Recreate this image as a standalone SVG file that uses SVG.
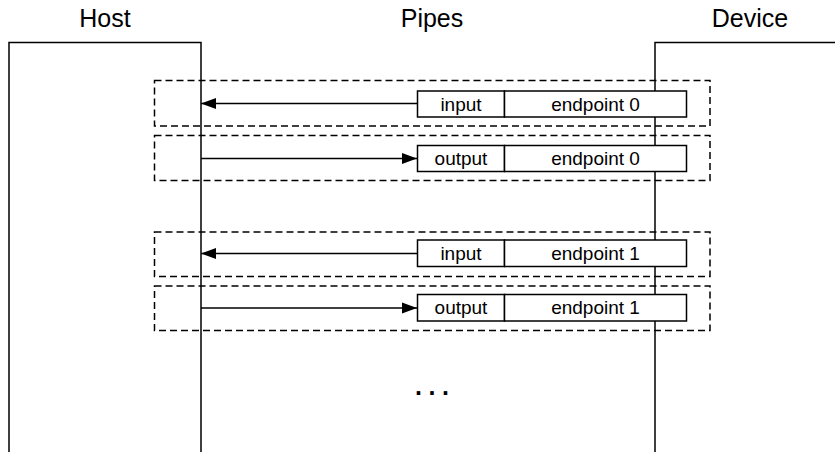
<svg xmlns="http://www.w3.org/2000/svg" width="835" height="452" viewBox="0 0 835 452">
  <style>
    .title { font-family: "Liberation Sans", Arial, sans-serif; font-size: 25px; fill: #000; text-anchor: middle; }
    .label { font-family: "Liberation Sans", Arial, sans-serif; font-size: 19px; fill: #000; text-anchor: middle; }
    .pipe { fill: none; stroke: #000; stroke-width: 1.5; stroke-dasharray: 7 4; }
    .side { fill: none; stroke: #000; stroke-width: 1.5; }
    .cell { fill: #fff; stroke: #000; stroke-width: 1.5; }
    .wire { fill: none; stroke: #000; stroke-width: 1.5; marker-end: url(#head); }
  </style>
  <defs>
    <marker id="head" markerUnits="userSpaceOnUse" markerWidth="16" markerHeight="12" viewBox="0 0 16 12" refX="15" refY="6" orient="auto">
      <path d="M0,0.5 L15,6 L0,11.5 Z" fill="#000"/>
    </marker>
  </defs>

  <rect width="835" height="452" fill="#fff"/>

  <!-- column titles -->
  <text class="title" x="105" y="27">Host</text>
  <text class="title" x="432" y="27">Pipes</text>
  <text class="title" x="750" y="27">Device</text>

  <!-- pipe frames -->
  <g id="pipes">
    <rect class="pipe" x="154.5" y="80.5" width="555.5" height="45.5"/>
    <rect class="pipe" x="154.5" y="135.5" width="555.5" height="45"/>
    <rect class="pipe" x="154.5" y="232" width="555.5" height="44.5"/>
    <rect class="pipe" x="154.5" y="286" width="555.5" height="44.5"/>
  </g>

  <!-- host and device -->
  <g id="host">
    <path class="side" d="M9,452 V42.5 H201 V452"/>
  </g>
  <g id="device">
    <path class="side" d="M655,452 V42.5 H835"/>
  </g>

  <!-- connectors -->
  <g id="connectors">
    <line class="wire" x1="417" y1="103.5" x2="201" y2="103.5"/>
    <line class="wire" x1="201" y1="158.5" x2="417" y2="158.5"/>
    <line class="wire" x1="417" y1="253.5" x2="201" y2="253.5"/>
    <line class="wire" x1="201" y1="308" x2="417" y2="308"/>
  </g>

  <!-- endpoints -->
  <g id="ep0-in">
    <rect class="cell" x="417.5" y="91" width="87" height="26"/>
    <rect class="cell" x="504.5" y="91" width="182" height="26"/>
    <text class="label" x="461" y="110.5">input</text>
    <text class="label" x="595.5" y="110.5">endpoint 0</text>
  </g>
  <g id="ep0-out">
    <rect class="cell" x="417.5" y="145.5" width="87" height="26"/>
    <rect class="cell" x="504.5" y="145.5" width="182" height="26"/>
    <text class="label" x="461" y="165">output</text>
    <text class="label" x="595.5" y="165">endpoint 0</text>
  </g>
  <g id="ep1-in">
    <rect class="cell" x="417.5" y="240" width="87" height="26.5"/>
    <rect class="cell" x="504.5" y="240" width="182" height="26.5"/>
    <text class="label" x="461" y="259.5">input</text>
    <text class="label" x="595.5" y="259.5">endpoint 1</text>
  </g>
  <g id="ep1-out">
    <rect class="cell" x="417.5" y="294.5" width="87" height="26.5"/>
    <rect class="cell" x="504.5" y="294.5" width="182" height="26.5"/>
    <text class="label" x="461" y="314">output</text>
    <text class="label" x="595.5" y="314">endpoint 1</text>
  </g>

  <!-- more pipes follow -->
  <text x="415" y="395" font-family="'Liberation Sans', Arial, sans-serif" font-size="25" font-weight="bold" letter-spacing="6.5" fill="#000">...</text>
</svg>
